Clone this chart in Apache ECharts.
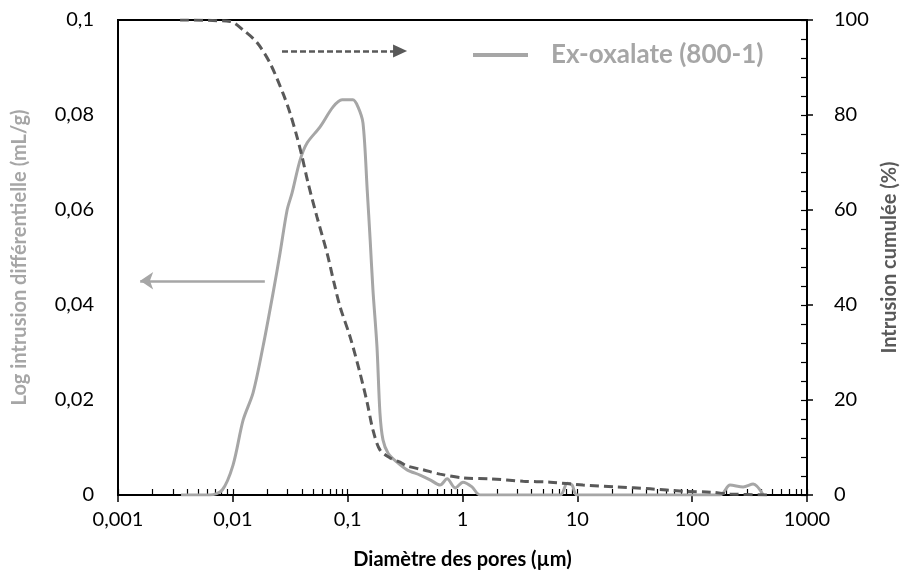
<!DOCTYPE html>
<html>
<head>
<meta charset="utf-8">
<script src="https://cdn.jsdelivr.net/npm/echarts@6/dist/echarts.min.js"></script>
<style>
  html, body { margin: 0; padding: 0; background: #fff; }
  #chart { width: 901px; height: 585px; }
</style>
</head>
<body>
<div id="chart"></div>
<script>
// diamètre des pores (µm) / log intrusion différentielle (mL/g)
var diamDiff = [0.00354, 0.00632, 0.00806, 0.01004, 0.0123, 0.0150, 0.0183, 0.0224, 0.0258, 0.0297,
  0.0328, 0.0385, 0.0443, 0.0575, 0.0746, 0.0894, 0.111, 0.123, 0.136, 0.148,
  0.157, 0.166, 0.180, 0.191, 0.203, 0.225, 0.269, 0.329, 0.427, 0.522,
  0.638, 0.735, 0.863, 1.01, 1.21, 1.42, 7.08, 8.15, 9.0, 9.96,
  175, 214, 278, 340, 416];
var logDiff = [0, 0, 0.001, 0.0063, 0.0158, 0.0215, 0.0312, 0.0425, 0.051, 0.060,
  0.0636, 0.0705, 0.0741, 0.0775, 0.0817, 0.0832, 0.0832, 0.0817, 0.0783, 0.0642,
  0.0537, 0.0432, 0.0312, 0.0173, 0.0116, 0.0088, 0.0069, 0.0053, 0.0042, 0.0032,
  0.0021, 0.0034, 0.0015, 0.0027, 0.0017, 0, 0, 0.0025, 0.0021, 0,
  0, 0.0021, 0.0017, 0.0023, 0];

// intrusion cumulée (%)
var diamCum = [0.00347, 0.00946, 0.0123, 0.0163, 0.0211, 0.0273, 0.0315, 0.0362, 0.0401, 0.0452,
  0.0541, 0.0662, 0.0762, 0.0859, 0.105, 0.128, 0.148, 0.166, 0.191, 0.234,
  0.286, 0.329, 0.454, 0.638, 1.01, 1.74, 3.37, 5.80, 11.2, 22.2,
  43.1, 83.6, 144, 214, 450];
var cumul = [100, 99.7, 97.9, 95.2, 90.9, 84.6, 80.4, 75.4, 71.2, 65.7,
  58.5, 50.9, 44.6, 39.6, 33.3, 25.7, 19.4, 13.7, 9.5, 7.8,
  6.9, 6.1, 5.3, 4.4, 3.6, 3.4, 2.9, 2.7, 2.1, 1.7,
  1.3, 0.8, 0.6, 0.2, 0];

var xTickLabels = ["0,001", "0,01", "0,1", "1", "10", "100", "1000"];
var leftTicks = ["0", "0,02", "0,04", "0,06", "0,08", "0,1"];
var rightTicks = ["0", "20", "40", "60", "80", "100"];

// arrows (data coords)
var arrowLeft = [[0.019, 0.0451], [0.00156, 0.0451]];
var arrowRight = [[0.0268, 93.5], [0.286, 93.5]];

// minor ticks of the log axis (1..9 per decade)
var xMinor = [];
for (var d = -3; d < 3; d++) {
  for (var k = 1; k <= 9; k++) {
    xMinor.push(Number((k * Math.pow(10, d)).toPrecision(3)));
  }
}
xMinor.push(1000);

var myChart = echarts.init(document.getElementById("chart"));
var font = "Lato, 'Open Sans', sans-serif";

function zip(a, b) {
  return a.map(function (v, i) { return [v, b[i]]; });
}

option = {
  animation: false,
  textStyle: { fontFamily: font },
  grid: {
    left: 118,
    right: 94,
    top: 20,
    bottom: 90,
    outerBoundsMode: "none",
    containLabel: false,
    show: true,
    borderColor: "#000",
    borderWidth: 2
  },
  legend: {
    data: ["Ex-oxalate (800-1)"],
    icon: "rect",
    left: 468,
    top: 37,
    itemWidth: 55,
    itemHeight: 4,
    itemGap: 10,
    textStyle: {
      color: "#a6a6a6",
      fontSize: 26,
      fontWeight: "bold",
      fontFamily: font,
      padding: [0, 0, 0, 18]
    }
  },
  xAxis: [
    {
      type: "log",
      logBase: 10,
      min: 0.001,
      max: 1000,
      position: "bottom",
      name: "Diamètre des pores (µm)",
      nameLocation: "middle",
      nameGap: 55,
      nameTextStyle: { color: "#000", fontSize: 20, fontWeight: "bold", fontFamily: font },
      axisLine: { onZero: false, lineStyle: { color: "#000", width: 2 } },
      axisTick: { show: true, length: 7, lineStyle: { color: "#000", width: 1.5 } },
      axisLabel: {
        color: "#000",
        fontSize: 20,
        margin: 15,
        fontFamily: font,
        formatter: function (v) {
          var i = Math.round(Math.log10(v)) + 3;
          return xTickLabels[i];
        }
      },
      splitLine: { show: false }
    },
    {
      type: "log",
      logBase: 10,
      min: 0.001,
      max: 1000,
      position: "bottom",
      axisLine: { show: false },
      axisLabel: { show: false },
      axisTick: {
        show: true,
        inside: true,
        length: 6,
        customValues: xMinor,
        lineStyle: { color: "#000", width: 1.2 }
      },
      splitLine: { show: false }
    }
  ],
  yAxis: [
    {
      type: "value",
      min: 0,
      max: 0.1,
      interval: 0.02,
      position: "left",
      name: "Log intrusion différentielle (mL/g)",
      nameLocation: "middle",
      nameGap: 88,
      nameTextStyle: { color: "#a6a6a6", fontSize: 20, fontWeight: "bold", fontFamily: font },
      axisLine: { show: true, onZero: false, lineStyle: { color: "#000", width: 2 } },
      axisTick: { show: false },
      axisLabel: {
        color: "#000",
        fontSize: 20,
        margin: 24,
        fontFamily: font,
        formatter: function (v) {
          return leftTicks[Math.round(v / 0.02)];
        }
      },
      splitLine: { show: false }
    },
    {
      type: "value",
      min: 0,
      max: 100,
      interval: 20,
      position: "right",
      name: "Intrusion cumulée (%)",
      nameLocation: "middle",
      nameGap: 66,
      nameRotate: 90,
      nameTextStyle: { color: "#595959", fontSize: 20, fontWeight: "bold", fontFamily: font },
      axisLine: { show: true, onZero: false, lineStyle: { color: "#000", width: 2 } },
      axisTick: { show: true, length: 6, lineStyle: { color: "#000", width: 1.5 } },
      axisLabel: {
        color: "#000",
        fontSize: 20,
        margin: 27,
        fontFamily: font,
        formatter: function (v) {
          return rightTicks[Math.round(v / 20)];
        }
      },
      splitLine: { show: false }
    },
    {
      type: "value",
      min: 0,
      max: 100,
      interval: 4,
      position: "right",
      axisLine: { show: false, onZero: false },
      axisLabel: { show: false },
      axisTick: { show: true, inside: true, length: 6, lineStyle: { color: "#000", width: 1.2 } },
      splitLine: { show: false }
    }
  ],
  series: [
    {
      name: "Ex-oxalate (800-1)",
      type: "line",
      xAxisIndex: 0,
      yAxisIndex: 0,
      data: zip(diamDiff, logDiff),
      symbol: "none",
      smooth: 0.3,
      lineStyle: { color: "#a6a6a6", width: 3 },
      itemStyle: { color: "#a6a6a6" },
      markLine: {
        silent: true,
        symbol: ["none", "arrow"],
        symbolSize: 13,
        label: { show: false },
        lineStyle: { color: "#a6a6a6", width: 2.5, type: "solid" },
        data: [[{ coord: arrowLeft[0] }, { coord: arrowLeft[1] }]]
      }
    },
    {
      name: "cumul",
      type: "line",
      xAxisIndex: 0,
      yAxisIndex: 1,
      data: zip(diamCum, cumul),
      symbol: "none",
      smooth: 0.3,
      lineStyle: { color: "#595959", width: 3, type: [9, 5] },
      itemStyle: { color: "#595959" },
      markLine: {
        silent: true,
        symbol: ["none", "triangle"],
        symbolSize: [13, 14],
        label: { show: false },
        lineStyle: { color: "#595959", width: 2.5, type: [6, 3] },
        data: [[{ coord: arrowRight[0] }, { coord: arrowRight[1] }]]
      }
    }
  ]
};

myChart.setOption(option);
</script>
</body>
</html>
